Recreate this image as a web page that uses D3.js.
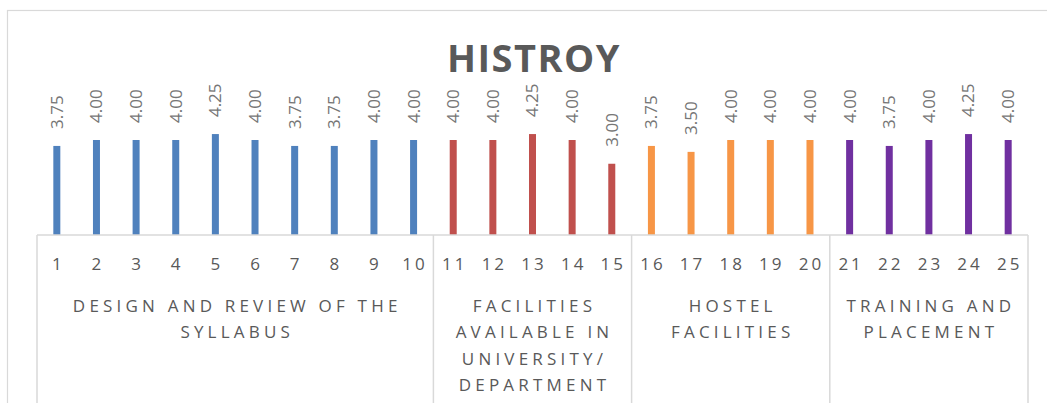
<!DOCTYPE html>
<html>
<head>
<meta charset="utf-8">
<script src="https://cdn.jsdelivr.net/npm/d3@7"></script>
<style>
  body { margin: 0; background: #fff; }
  text { font-family: "Open Sans", sans-serif; }
</style>
</head>
<body>
<div id="chart"></div>
<script>
// data
var items = d3.range(1, 26).map(String);
var scores = [3.75, 4.00, 4.00, 4.00, 4.25, 4.00, 3.75, 3.75, 4.00, 4.00,
              4.00, 4.00, 4.25, 4.00, 3.00,
              3.75, 3.50, 4.00, 4.00, 4.00,
              4.00, 3.75, 4.00, 4.25, 4.00];
var groupNames = [
    ["DESIGN AND REVIEW OF THE", "SYLLABUS"],
    ["FACILITIES", "AVAILABLE IN", "UNIVERSITY/", "DEPARTMENT"],
    ["HOSTEL", "FACILITIES"],
    ["TRAINING AND", "PLACEMENT"]
];
var groupSizes = [10, 5, 5, 5];
var groupColors = ["#4f81bd", "#c0504d", "#f79646", "#7030a0"];

var width = 1047, height = 403;

var svg = d3.select("#chart").append("svg")
    .attr("width", width)
    .attr("height", height);

// chart border
svg.append("rect")
    .attr("x", 7.5).attr("y", 10.5)
    .attr("width", 1060).attr("height", 420)
    .attr("fill", "none")
    .attr("stroke", "#d9d9d9")
    .attr("stroke-width", 1.2);

// title
svg.append("text")
    .text("HISTROY")
    .attr("x", 534).attr("y", 72)
    .attr("text-anchor", "middle")
    .attr("font-size", "38px")
    .attr("font-weight", "bold")
    .attr("letter-spacing", "1.5px")
    .attr("fill", "#595959");

var axisY = 235;

var x = d3.scaleBand()
    .domain(items)
    .range([37, 1028]);

var y = d3.scaleLinear()
    .domain([0, 5])
    .range([axisY, axisY - 118.75]);

// group index of each item
var groupOf = [];
groupSizes.forEach(function (n, g) {
    for (var i = 0; i < n; i++) groupOf.push(g);
});

// bars
svg.selectAll("rect.bar")
    .data(scores)
    .enter()
    .append("rect")
    .attr("class", "bar")
    .attr("x", function (d, i) { return x(items[i]) + x.bandwidth() / 2 - 3.5; })
    .attr("y", function (d) { return y(d); })
    .attr("width", 7)
    .attr("height", function (d) { return axisY - y(d); })
    .attr("fill", function (d, i) { return groupColors[groupOf[i]]; });

// data labels
svg.selectAll("text.val")
    .data(scores)
    .enter()
    .append("text")
    .attr("class", "val")
    .text(function (d) { return d3.format(".2f")(d); })
    .attr("transform", function (d, i) {
        return "translate(" + (x(items[i]) + x.bandwidth() / 2) + "," + (y(d) - 17) + ") rotate(-90)";
    })
    .attr("dy", "0.35em")
    .attr("font-size", "17px")
    .attr("fill", "#767676");

// category axis
var axisColor = "#d9d9d9";
svg.append("line")
    .attr("x1", 37).attr("x2", 1028)
    .attr("y1", axisY).attr("y2", axisY)
    .attr("stroke", axisColor).attr("stroke-width", 1.5);

// group boundaries
var bounds = [0];
groupSizes.forEach(function (n) { bounds.push(bounds[bounds.length - 1] + n); });

svg.selectAll("line.sep")
    .data(bounds)
    .enter()
    .append("line")
    .attr("class", "sep")
    .attr("x1", function (b) { return b < items.length ? x(items[b]) : x.range()[1]; })
    .attr("x2", function (b) { return b < items.length ? x(items[b]) : x.range()[1]; })
    .attr("y1", axisY).attr("y2", height + 5)
    .attr("stroke", axisColor).attr("stroke-width", 1.5);

// item tick labels
svg.selectAll("text.tick")
    .data(items)
    .enter()
    .append("text")
    .attr("class", "tick")
    .text(function (d) { return d; })
    .attr("x", function (d) { return x(d) + x.bandwidth() / 2 + 1.5; })
    .attr("y", 270)
    .attr("text-anchor", "middle")
    .attr("font-size", "17px")
    .attr("letter-spacing", "3px")
    .attr("fill", "#595959");

// group labels
groupNames.forEach(function (lines, g) {
    var x0 = x(items[bounds[g]]);
    var x1 = bounds[g + 1] < items.length ? x(items[bounds[g + 1]]) : x.range()[1];
    var t = svg.append("text")
        .attr("text-anchor", "middle")
        .attr("font-size", "17px")
        .attr("letter-spacing", "4.2px")
        .attr("fill", "#595959");
    lines.forEach(function (line, k) {
        t.append("tspan")
            .attr("x", (x0 + x1) / 2 + 2)
            .attr("y", 312 + k * 26.3)
            .text(line);
    });
});
</script>
</body>
</html>
